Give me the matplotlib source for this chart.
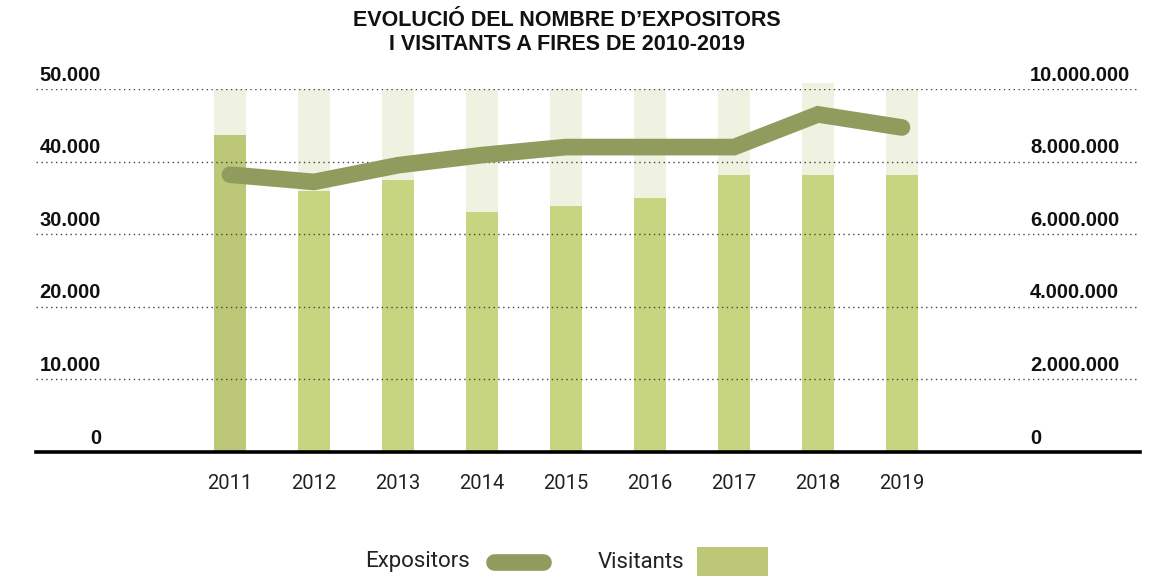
import matplotlib
matplotlib.use("Agg")
import matplotlib.pyplot as plt
from matplotlib.lines import Line2D
from matplotlib.patches import Rectangle
from matplotlib import transforms

# ---- data ----
anys = ["2011", "2012", "2013", "2014", "2015", "2016", "2017", "2018", "2019"]
visitants = [8730000, 7190000, 7490000, 6610000, 6780000, 7000000, 7640000, 7640000, 7640000]
expositors = [38200, 37200, 39500, 40900, 42000, 42000, 42000, 46500, 44700]
fons = [10000000, 10000000, 10000000, 10000000, 10000000, 10000000, 10000000, 10160000, 10000000]
etiq_esq = ["0", "10.000", "20.000", "30.000", "40.000", "50.000"]
val_esq = [0, 10000, 20000, 30000, 40000, 50000]
etiq_dre = ["0", "2.000.000", "4.000.000", "6.000.000", "8.000.000", "10.000.000"]
val_dre = [0, 2000000, 4000000, 6000000, 8000000, 10000000]

W, H = 1167, 576
fig = plt.figure(figsize=(W / 100, H / 100), dpi=100)

BOLD = ["Liberation Sans", "DejaVu Sans"]
REG = ["Roboto", "DejaVu Sans"]
NARROW = ["Liberation Sans Narrow", "Liberation Sans", "DejaVu Sans"]

c_pale = "#eff2e0"
c_bar = "#c8d580"
c_bar1 = "#bcc878"
c_line = "#8f9c5e"

x0, x1 = 36, 1140
ybot, ytop = 452, 89
ax = fig.add_axes([x0 / W, (H - ybot) / H, (x1 - x0) / W, (ybot - ytop) / H])
ax2 = ax.twinx()

xs = list(range(len(anys)))
step = 84.0
cx0 = 230.0
ax.set_xlim(-(cx0 - x0) / step, len(anys) - 1 + (x1 - (cx0 + step * (len(anys) - 1))) / step)
ax.set_ylim(0, 10000000)
ax2.set_ylim(0, 50000)

bw = 32 / step
ax.bar(xs, fons, width=bw, color=c_pale, zorder=1, clip_on=False)
cols = [c_bar1] + [c_bar] * (len(anys) - 1)
ax.bar(xs, visitants, width=bw, color=cols, zorder=2)

# grid lines
for v in val_esq[1:]:
    ax2.axhline(v, color="#444444", lw=1.0, ls=(0, (1, 2.5)), zorder=3)
ax2.axhline(0, color="black", lw=2.6, zorder=4, clip_on=False)

ax2.plot(xs, expositors, color=c_line, lw=12, solid_capstyle="round",
         solid_joinstyle="miter", zorder=5)

for a in (ax, ax2):
    a.set_yticks([])
    for s in a.spines.values():
        s.set_visible(False)
    a.tick_params(length=0)
    a.patch.set_visible(False)

ax.set_xticks(xs)
ax.set_xticklabels(anys, fontsize=14.5, family=REG, color="#222222")
ax.tick_params(axis="x", pad=16)

# y labels
tl = transforms.blended_transform_factory(fig.transFigure, ax2.transData)
tl = transforms.offset_copy(tl, fig=fig, y=14, units="dots")
for v, t in zip(val_esq, etiq_esq):
    fig.text(101 / W, v, t, transform=tl, ha="right", va="center",
             fontsize=14.5, fontweight="bold", family=BOLD, color="#111111")
tr = transforms.blended_transform_factory(fig.transFigure, ax.transData)
tr = transforms.offset_copy(tr, fig=fig, y=14, units="dots")
for v, t in zip(val_dre, etiq_dre):
    fig.text(1030 / W, v, t, transform=tr, ha="left", va="center",
             fontsize=14.5, fontweight="bold", family=BOLD, color="#111111")

# title
fig.text(567 / W, 1 - 20 / H, "EVOLUCIÓ DEL NOMBRE D’EXPOSITORS", ha="center", va="center",
         fontsize=15.5, fontweight="bold", family=NARROW, color="#111111")
fig.text(567 / W, 1 - 44 / H, "I VISITANTS A FIRES DE 2010-2019", ha="center", va="center",
         fontsize=15.5, fontweight="bold", family=NARROW, color="#111111")

# legend
ly = 1 - 562 / H
fig.text(470 / W, ly, "Expositors", ha="right", va="center", fontsize=16,
         family=REG, color="#222222")
fig.add_artist(Line2D([494 / W, 543 / W], [ly, ly], transform=fig.transFigure,
                      color=c_line, lw=12, solid_capstyle="round"))
fig.text(684 / W, ly, "Visitants", ha="right", va="center", fontsize=16,
         family=REG, color="#222222")
fig.add_artist(Rectangle((697 / W, 0), 71 / W, 29 / H, transform=fig.transFigure,
                         color=c_bar1, lw=0))

fig.savefig("out.png", dpi=100)
